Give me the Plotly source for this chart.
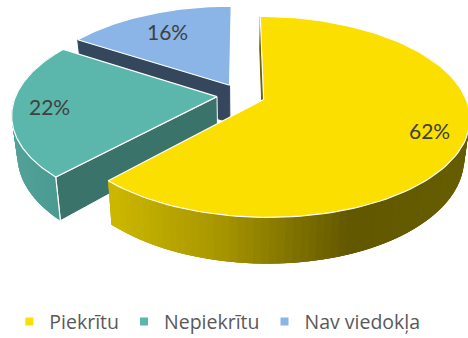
import numpy as np
import plotly.graph_objects as go

categories = ["Piekrītu", "Nepiekrītu", "Nav viedokļa"]
values = [62, 22, 16]
top_colors = ["#FBDF00", "#5BB6AC", "#8AB5E6"]
radial_colors = ["#6B6000", "#3A736A", "#34475C"]

# projection of the exploded pie
OX, OY = 241.0, 95.2
A, K, P, PULL = 201.0, 96.0, 0.172, 0.12
H, FX = 38.0, 0.975
label_r = [0.83, 0.82, 0.74]
wall_stops = {
    0: ([110, 220, 350, 468], ["#CDB800", "#A89600", "#625800", "#675D00"]),
    1: ([10, 60], ["#54A39A", "#4A9A91"]),
}
wall_start = {0: 55.0, 1: None}
wall_end = {0: None, 1: 300.0}


def project(u, v, down=False):
    s = 1.0 / (1.0 + P * v)
    if down:
        return OX + u * A * s * FX, OY - v * K * s + H * s
    return OX + u * A * s, OY - v * K * s


def rim(th_deg, off, r=1.0):
    t = np.radians(th_deg)
    return off[0] + r * np.sin(t), off[1] + r * np.cos(t)


def mix(stops, x):
    xs, cs = stops
    rgb = [[int(c[i:i + 2], 16) for i in (1, 3, 5)] for c in cs]
    return "rgb(%d,%d,%d)" % tuple(np.interp(x, xs, [c[j] for c in rgb]) for j in range(3))


fig = go.Figure()


def poly(xs, ys, fill, line=None, width=1.0):
    fig.add_trace(go.Scatter(x=list(xs) + [xs[0]], y=list(ys) + [ys[0]], mode="lines", fill="toself",
                             fillcolor=fill, line=dict(color=line or fill, width=width),
                             hoverinfo="skip", showlegend=False))


edges = np.cumsum([0] + values) * 3.6
slices = []
for i in range(3):
    mid = (edges[i] + edges[i + 1]) / 2
    off = (PULL * np.sin(np.radians(mid)), PULL * np.cos(np.radians(mid)))
    slices.append((i, edges[i], edges[i + 1], off))

for i, a0, a1, off in [slices[2], slices[1], slices[0]]:
    # radial face that looks toward the viewer
    ru, rv = rim(a0, off)
    pts = [project(*off), project(ru, rv), project(ru, rv, True), project(*off, True)]
    poly([p[0] for p in pts], [p[1] for p in pts], radial_colors[i],
         line="#FFFFFF" if i == 1 else None, width=1.0)
    # outer wall: each band runs on to the end of the next, so no seam shows
    if i in wall_stops:
        s0 = wall_start[i] if wall_start[i] is not None else a0
        s1 = wall_end[i] if wall_end[i] is not None else a1
        ths = np.linspace(s0, s1, 90)
        step = ths[1] - ths[0]
        for t0, t1 in zip(ths[:-1], ths[1:]):
            te = min(t1 + 2 * step, s1)
            p = [project(*rim(t0, off)), project(*rim(te, off)),
                 project(*rim(te, off), True), project(*rim(t0, off), True)]
            poly([q[0] for q in p], [q[1] for q in p],
                 mix(wall_stops[i], (project(*rim(t0, off))[0] + project(*rim(t1, off))[0]) / 2), width=0)
        if i == 1:
            u, v = rim(a0, off)
            a, b = project(u, v), project(u, v, True)
            fig.add_trace(go.Scatter(x=[a[0], b[0]], y=[a[1], b[1]], mode="lines",
                                     line=dict(color="#FFFFFF", width=1.2), hoverinfo="skip", showlegend=False))
    # top face
    ths = np.linspace(a0, a1, 120)
    pts = [project(*off)] + [project(*rim(t, off)) for t in ths]
    poly([p[0] for p in pts], [p[1] for p in pts], top_colors[i], line="#FFFFFF", width=1.2)

# percentage labels
for i, a0, a1, off in slices:
    lx, ly = project(*rim((a0 + a1) / 2, off, label_r[i]))
    fig.add_annotation(x=lx, y=ly, text=f"{values[i]}%", showarrow=False,
                       font=dict(family="Lato", size=21, color="#404040"))

# legend entries
for c, col in zip(categories, top_colors):
    fig.add_trace(go.Scatter(x=[None], y=[None], mode="markers", name=c,
                             marker=dict(symbol="square", size=8, color=col)))

fig.update_layout(
    width=468, height=338, margin=dict(l=0, r=0, t=0, b=0, autoexpand=False),
    paper_bgcolor="white", plot_bgcolor="white",
    xaxis=dict(range=[0, 468], visible=False, fixedrange=True),
    yaxis=dict(range=[338, 0], visible=False, fixedrange=True),
    legend=dict(orientation="h", x=0.02, xanchor="left", y=0.048, yanchor="middle",
                font=dict(family="Open Sans", size=19.5, color="#595959"),
                bgcolor="rgba(0,0,0,0)", itemclick=False, itemdoubleclick=False),
)
fig.write_html("out.html", config={"displayModeBar": False},
               post_script="document.body.style.margin='0';")
